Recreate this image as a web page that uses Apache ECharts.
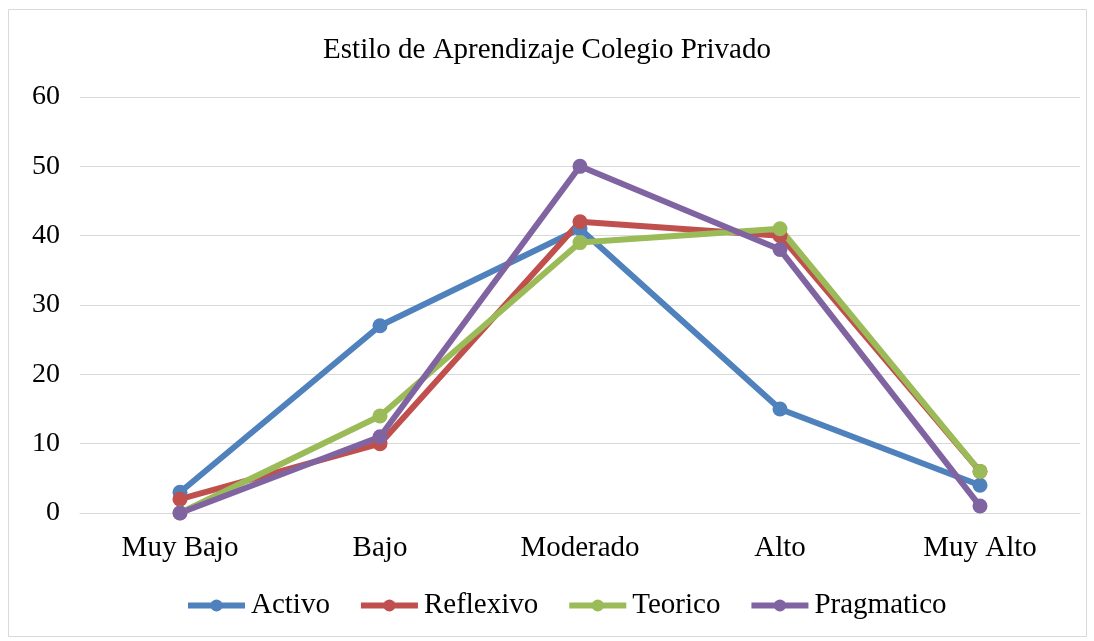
<!DOCTYPE html>
<html>
<head>
<meta charset="utf-8">
<script src="https://cdn.jsdelivr.net/npm/echarts@6/dist/echarts.min.js"></script>
<style>
  html, body { margin: 0; padding: 0; background: #fff; }
  #chart { width: 1094px; height: 641px; }
</style>
</head>
<body>
<div id="chart"></div>
<script>
const categories = ['Muy Bajo', 'Bajo', 'Moderado', 'Alto', 'Muy Alto']
const activo = [3, 27, 41, 15, 4]
const reflexivo = [2, 10, 42, 40, 6]
const teorico = [0, 14, 39, 41, 6]
const pragmatico = [0, 11, 50, 38, 1]

const font = '"Liberation Serif", "Times New Roman", serif'
const colors = ['#4F81BD', '#C0504D', '#9BBB59', '#8064A2']

const chart = echarts.init(document.getElementById('chart'))

const mkSeries = (name, data, color) => ({
  name,
  type: 'line',
  data,
  symbol: 'circle',
  symbolSize: 15,
  color,
  lineStyle: { width: 6, color },
  itemStyle: { color },
  emphasis: { disabled: true }
})

const option = {
  animation: false,
  textStyle: { fontFamily: font },
  title: {
    text: 'Estilo de Aprendizaje Colegio Privado',
    left: 'center',
    top: 31,
    textStyle: { fontFamily: font, fontSize: 29, fontWeight: 'normal', color: '#000' }
  },
  graphic: [{
    type: 'rect',
    shape: { x: 8.5, y: 9.5, width: 1078, height: 627 },
    style: { fill: 'none', stroke: '#d9d9d9', lineWidth: 1 },
    silent: true
  }],
  grid: { left: 80, right: 14, top: 97, bottom: 128 },
  legend: {
    bottom: 16,
    left: 180,
    itemWidth: 57,
    itemHeight: 15,
    itemGap: 28,
    lineStyle: { width: 6 },
    textStyle: { fontFamily: font, fontSize: 29, color: '#000', padding: [0, 0, 0, 1] },
    data: ['Activo', 'Reflexivo', 'Teorico', 'Pragmatico']
  },
  xAxis: {
    type: 'category',
    data: categories,
    boundaryGap: true,
    axisLine: { lineStyle: { color: '#d9d9d9', width: 1 } },
    axisTick: { show: false },
    axisLabel: { fontFamily: font, fontSize: 29, color: '#000', margin: 21 }
  },
  yAxis: {
    type: 'value',
    min: 0,
    max: 60,
    interval: 10,
    axisLine: { show: false },
    axisTick: { show: false },
    axisLabel: { fontFamily: font, fontSize: 28, color: '#000', margin: 20 },
    splitLine: { lineStyle: { color: '#d9d9d9', width: 1 } }
  },
  series: [
    mkSeries('Activo', activo, colors[0]),
    mkSeries('Reflexivo', reflexivo, colors[1]),
    mkSeries('Teorico', teorico, colors[2]),
    mkSeries('Pragmatico', pragmatico, colors[3])
  ]
}

chart.setOption(option)
window.addEventListener('resize', () => chart.resize())
</script>
</body>
</html>
